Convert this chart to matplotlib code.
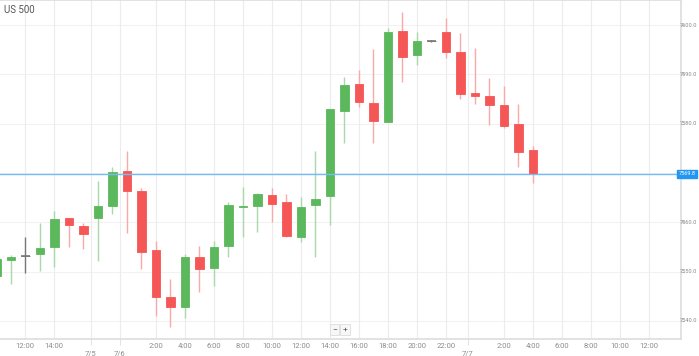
import numpy as np
import matplotlib
matplotlib.use("Agg")
from matplotlib import pyplot as plt
from matplotlib.transforms import blended_transform_factory

plt.rcParams['font.family'] = ['Roboto', 'DejaVu Sans']

# hourly candles, index 0 = 12:00 on the first visible day
idx = np.arange(-2, 36)
opens = [7549.1, 7552.3, 7553.2, 7553.5, 7555.1, 7560.9, 7559.3, 7560.9, 7563.3, 7570.5,
         7566.4, 7554.3, 7544.8, 7542.8, 7553.0, 7550.7, 7555.2, 7563.2, 7563.4, 7565.6,
         7564.1, 7557.0, 7563.5, 7565.3, 7582.6, 7588.1, 7584.1, 7580.4, 7598.8, 7594.0,
         7596.8, 7598.6, 7594.5, 7586.2, 7585.6, 7583.8, 7579.9, 7574.6]
highs = [7553.0, 7553.3, 7557.0, 7559.8, 7562.2, 7560.9, 7559.8, 7568.4, 7571.3, 7574.5,
         7566.9, 7556.3, 7548.5, 7553.6, 7555.3, 7556.3, 7564.1, 7567.2, 7566.0, 7566.9,
         7565.8, 7565.1, 7574.5, 7583.0, 7589.4, 7590.9, 7595.1, 7599.3, 7602.7, 7598.6,
         7596.9, 7601.4, 7598.3, 7595.4, 7589.2, 7587.7, 7583.9, 7575.5]
lows = [7548.0, 7547.4, 7549.8, 7550.1, 7551.0, 7555.1, 7554.5, 7552.2, 7561.6, 7557.8,
        7550.6, 7541.1, 7538.8, 7540.7, 7545.9, 7547.1, 7553.0, 7557.1, 7558.1, 7560.1,
        7557.1, 7556.1, 7552.9, 7559.5, 7576.0, 7583.4, 7576.0, 7580.4, 7588.5, 7591.8,
        7596.6, 7593.3, 7584.9, 7584.0, 7579.7, 7579.2, 7571.3, 7568.0]
closes = [7552.5, 7553.0, 7553.2, 7554.7, 7560.7, 7559.5, 7557.6, 7563.3, 7570.3, 7566.4,
          7554.0, 7544.9, 7542.9, 7552.9, 7550.5, 7555.1, 7563.5, 7563.4, 7565.8, 7563.7,
          7557.2, 7563.2, 7564.7, 7582.9, 7587.9, 7584.4, 7580.5, 7598.6, 7593.6, 7596.8,
          7596.8, 7594.6, 7586.1, 7585.6, 7583.7, 7579.5, 7574.3, 7569.8]
last_price = 7569.8

tick_pos = [0, 2, 9, 11, 13, 15, 17, 19, 21, 23, 25, 27, 29, 33, 35, 37, 39, 41, 43]
tick_lbl = ["12:00", "14:00", "2:00", "4:00", "6:00", "8:00", "10:00", "12:00", "14:00",
            "16:00", "18:00", "20:00", "22:00", "2:00", "4:00", "6:00", "8:00", "10:00", "12:00"]
day_pos = [4.5, 6.5, 30.5]
day_lbl = ["7/5", "7/6", "7/7"]
grid_y = [7540, 7550, 7560, 7570, 7580, 7590, 7600]
y_ticks = [7540, 7550, 7560, 7580, 7590, 7600]

opens, highs, lows, closes = map(np.array, (opens, highs, lows, closes))

green, red, grey = "#5cb85c", "#f55656", "#777777"
cols = np.where(closes > opens, green, np.where(closes < opens, red, grey))
wick_cols = np.where(closes > opens, "#a9d9a9", np.where(closes < opens, "#f9a9a9", grey))

fig = plt.figure(figsize=(6.99, 3.56), dpi=100)
ax = fig.add_axes([0, 17 / 356, 681 / 699, 339 / 356])

# grid
for y in grid_y:
    ax.axhline(y, color="#f2f2f2", lw=0.8, zorder=0)
for x in tick_pos + day_pos:
    ax.axvline(x, color="#ececec", lw=0.8, zorder=0)

ax.vlines(idx, lows, highs, colors=wick_cols, lw=1.0, zorder=2)
body = np.abs(closes - opens)
ax.bar(idx, body, bottom=np.minimum(opens, closes), width=0.58, color=cols,
       edgecolor=cols, linewidth=0.6, zorder=3)
flat = body == 0
ax.hlines(closes[flat], idx[flat] - 0.3, idx[flat] + 0.3, colors=cols[flat], lw=1.2, zorder=3)

ax.axhline(last_price, color="#74bdf4", lw=1.0, zorder=4)

ax.set_xlim(-1.745, 45.22)
ax.set_ylim(7536.35, 7605.07)

ax.set_xticks(tick_pos)
ax.set_xticklabels(tick_lbl, fontsize=5.5, color="#8c8c8c")
ax.set_xticks(day_pos, minor=True)
ax.set_xticklabels(["\n" + d for d in day_lbl], minor=True, fontsize=5.5, color="#8c8c8c")
ax.tick_params(axis="x", which="major", length=0, pad=3)
ax.tick_params(axis="x", which="minor", length=4, color="#dddddd", pad=-1)

# right price scale: short ticks, labels right-aligned to the figure edge
ax.yaxis.tick_right()
ax.set_yticks(y_ticks)
ax.set_yticklabels([])
ax.tick_params(axis="y", length=2, color="#cccccc")
tr = blended_transform_factory(fig.transFigure, ax.transData)
for v in y_ticks:
    ax.text(0.997, v, f"{v:.1f}", transform=tr, ha="right", va="center",
            fontsize=4.1, color="#8c8c8c", clip_on=False)

ax.spines["left"].set_visible(False)
for s in ["top", "right", "bottom"]:
    ax.spines[s].set_color("#dddddd")
    ax.spines[s].set_linewidth(1.2)

ax.text(0.995, last_price, f"{last_price:.1f}", transform=tr, ha="right", va="center",
        fontsize=4.1, color="white", clip_on=False, zorder=6,
        bbox=dict(boxstyle="square,pad=0.25", fc="#2196f3", ec="#2196f3"))

fig.text(0.006, 0.972, "US 500", fontsize=7, color="#555555", va="center", ha="left")

fig.text(0.4785, 0.075, "\u2212", fontsize=6, color="#555555", ha="center", va="center",
         bbox=dict(boxstyle="square,pad=0.3", fc="#f7f7f7", ec="#dddddd", lw=0.6))
fig.text(0.4935, 0.075, "+", fontsize=6, color="#555555", ha="center", va="center",
         bbox=dict(boxstyle="square,pad=0.3", fc="#f7f7f7", ec="#dddddd", lw=0.6))

fig.savefig("out.png", dpi=100)
